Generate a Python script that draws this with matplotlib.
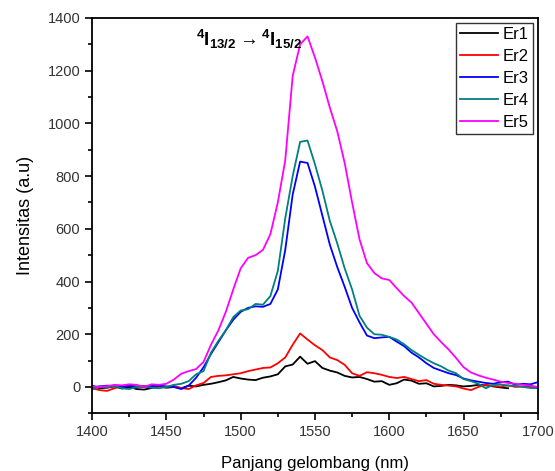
import numpy as np
import matplotlib
matplotlib.use("Agg")
import matplotlib.pyplot as plt
from matplotlib.ticker import MultipleLocator

plt.rcParams['font.family'] = ['Liberation Sans', 'DejaVu Sans']
plt.rcParams['mathtext.fontset'] = 'custom'
plt.rcParams['mathtext.bf'] = 'Liberation Sans:bold'
plt.rcParams['mathtext.rm'] = 'Liberation Sans'

# emission spectra, sampled every 5 nm
wavelength = np.arange(1400, 1701, 5)

er1 = [5, -5, -3, 2, -6, 0, -8, -10, -4, 2, -3, 0, -5, 5, 2, 8, 12, 18, 25, 38,
       32, 28, 26, 35, 40, 48, 78, 85, 115, 88, 98, 72, 62, 55, 42, 36, 38, 30,
       20, 22, 8, 14, 28, 24, 12, 14, 2, 4, 8, 6, 2, 4, 8, 6, 2, -2, -5]

er2 = [-5, -12, -15, -5, 2, 5, 0, 4, 2, 5, 0, 4, -4, -8, 6, 15, 38, 42, 44, 48,
       52, 60, 66, 72, 74, 90, 112, 160, 203, 180, 158, 140, 112, 102, 84, 52,
       42, 56, 52, 46, 38, 34, 38, 30, 22, 26, 12, 8, 5, 2, -6, -12, 0, 8, 4, 2,
       6, 0, 2, 0, -2]

er3 = [0, 2, 5, 3, 0, 4, 2, 0, 3, 5, 2, 0, -8, 5, 35, 75, 125, 170, 215, 255,
       285, 300, 306, 304, 315, 370, 520, 730, 855, 850, 760, 650, 540, 455,
       380, 300, 245, 195, 185, 188, 190, 172, 155, 130, 112, 90, 72, 62, 52,
       45, 32, 25, 20, 15, 12, 18, 20, 8, 12, 10, 18]

er4 = [-10, 2, -2, 4, -5, -8, 0, 2, -3, -5, 0, 8, 12, 22, 48, 60, 130, 175,
       215, 265, 290, 295, 315, 312, 345, 440, 640, 800, 930, 935, 845, 745,
       630, 545, 450, 370, 270, 225, 200, 198, 190, 180, 162, 140, 122, 105,
       90, 78, 62, 52, 30, 22, 12, -5, 8, 10, 5, 4, 0, -4, -5]

er5 = [2, 0, 3, 8, 6, 10, 8, 0, 10, 8, 12, 28, 50, 60, 68, 95, 160, 215, 285,
       370, 450, 490, 500, 520, 580, 700, 860, 1180, 1300, 1330, 1250, 1160,
       1060, 970, 850, 700, 560, 470, 432, 412, 406, 375, 345, 320, 280, 240,
       200, 170, 142, 110, 75, 55, 44, 35, 28, 20, 15, 12, 8, 5, 0]

series = [("Er1", er1, "black"),
          ("Er2", er2, "#ff0000"),
          ("Er3", er3, "#0000ff"),
          ("Er4", er4, "#008080"),
          ("Er5", er5, "#ff00ff")]

fig = plt.figure(figsize=(5.55, 4.71), dpi=100)
ax = fig.add_axes([0.166, 0.1225, 0.803, 0.8393])

for name, vals, col in series:
    ax.plot(wavelength[:len(vals)], vals, color=col, lw=1.3, label=name)

ax.set_xlim(1400, 1700)
ax.set_ylim(-100, 1400)
ax.xaxis.set_major_locator(MultipleLocator(50))
ax.xaxis.set_minor_locator(MultipleLocator(25))
ax.yaxis.set_major_locator(MultipleLocator(200))
ax.yaxis.set_minor_locator(MultipleLocator(100))
ax.tick_params(which='both', direction='out', top=False, right=False,
               width=1.2, labelsize=10.5, colors='black', labelcolor='#333333')
ax.tick_params(which='major', length=5)
ax.tick_params(which='minor', length=3)
for s in ax.spines.values():
    s.set_linewidth(1.3)

ax.set_xlabel("Panjang gelombang (nm)", fontsize=12, labelpad=12)
ax.set_ylabel("Intensitas (a.u)", fontsize=13, labelpad=10)

ax.text(1470, 1318, r'$\mathbf{^4I_{13/2}\rightarrow{}^4I_{15/2}}$',
        fontsize=13.5, ha='left', va='center')

leg = ax.legend(loc='upper right', fontsize=12, frameon=True, fancybox=False,
                edgecolor='black', handlelength=2.3, handletextpad=0.25,
                borderpad=0.25, labelspacing=0.42, borderaxespad=0.3)
leg.get_frame().set_linewidth(1.0)

fig.savefig("out.png", dpi=100)
